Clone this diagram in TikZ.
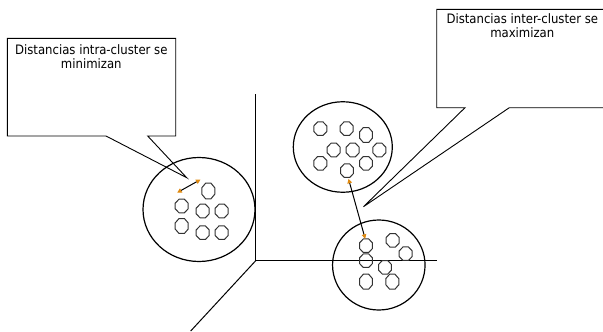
\documentclass[tikz,border=0pt]{standalone}
\usepackage{fontspec}
\setmainfont{DejaVu Sans Condensed}
\usetikzlibrary{shapes.geometric,arrows.meta}
\definecolor{tiporange}{HTML}{E08A10}
\definecolor{dotgray}{HTML}{333333}
\tikzset{
  callout/.style={draw=black, line width=0.9pt, line join=miter},
  bigclu/.style={draw=black, line width=1.2pt},
  axisline/.style={draw=black, line width=1pt},
  pt/.style={regular polygon, regular polygon sides=8, draw=dotgray, line width=1pt,
             minimum width=14pt, inner sep=0pt, yscale=1.05},
  dist/.style={draw=black, line width=1pt,
    {Triangle[color=tiporange,length=4.5pt,width=4.5pt]}-{Triangle[color=tiporange,length=4.5pt,width=4.5pt]}},
  lbl/.style={align=center, font=\fontsize{13}{14}\selectfont, inner sep=0pt, anchor=north}
}
\begin{document}
\begin{tikzpicture}[x=1pt,y=-1pt]
\useasboundingbox (0,0) rectangle (603,332);
\clip (0,0) rectangle (603,332);
% axes
\coordinate (O) at (255.7,260.7);
\coordinate (Ytop) at (255.7,94);
\coordinate (Xend) at (437,260.7);
\coordinate (Zend) at (190.7,331);
\draw[axisline] (Ytop) -- (O) -- (Xend);
\draw[axisline] (O) -- (Zend);
% big clusters
\node[bigclu, ellipse, minimum width=112pt, minimum height=104pt, inner sep=0pt] (CL) at (199,209.5) {};
\node[bigclu, ellipse, minimum width=99pt, minimum height=90.5pt, inner sep=0pt] (CU) at (342.8,147) {};
\node[bigclu, ellipse, minimum width=92.5pt, minimum height=90pt, inner sep=0pt] (CD) at (378.8,265) {};
% left cluster points
\node[pt, yscale=1.15] (l1) at (208.3,191) {};
\node[pt] (l2) at (181.7,206) {};
\node[pt] (l3) at (202.7,211) {};
\node[pt] (l4) at (221.7,211) {};
\node[pt, yscale=1.1] (l5) at (181.7,226) {};
\node[pt] (l6) at (202.7,232.7) {};
\node[pt] (l7) at (221.7,232.7) {};
% upper right cluster points
\node[pt] (u1) at (320.3,128.7) {};
\node[pt] (u2) at (346.7,128.7) {};
\node[pt, yscale=1.1] (u3) at (366,135) {};
\node[pt] (u4) at (333.7,150) {};
\node[pt] (u5) at (352.7,150) {};
\node[pt] (u6) at (379.3,150) {};
\node[pt] (u7) at (320.3,163.3) {};
\node[pt] (u8) at (366,163.3) {};
\node[pt] (u9) at (347,170.7) {};
% lower right cluster points
\node[pt] (d1) at (366,245.7) {};
\node[pt] (d2) at (392.7,240.3) {};
\node[pt] (d3) at (405.7,253.7) {};
\node[pt] (d4) at (366,260.7) {};
\node[pt] (d5) at (385,267.3) {};
\node[pt, yscale=1.1] (d6) at (366,281.7) {};
\node[pt, yscale=1.1] (d7) at (392.3,281.7) {};
% distance arrows
\coordinate (a1) at (177.2,192.6);
\coordinate (a2) at (200.5,179.6);
\draw[dist] (a1) -- (a2);
\coordinate (b1) at (348.5,178.8);
\coordinate (b2) at (365.2,238.8);
\draw[dist] (b1) -- (b2);
% callout 1
\draw[callout] (7.3,38.3) -- (175.7,38.3) -- (175.7,136) -- (147.7,136) -- (186.7,177.7) -- (106,136) -- (7.3,136) -- cycle;
\node[lbl] (t1) at (91.3,44.6) {Distancias intra-cluster se\\minimizan};
% callout 2
\draw[callout] (436.7,9.3) -- (612,9.3) -- (612,107.7) -- (509.3,107.7) -- (363.5,206.7) -- (465,107.7) -- (436.7,107.7) -- cycle;
\node[lbl] (t2) at (522.3,13.6) {Distancias inter-cluster se\\maximizan};
\end{tikzpicture}
\end{document}
